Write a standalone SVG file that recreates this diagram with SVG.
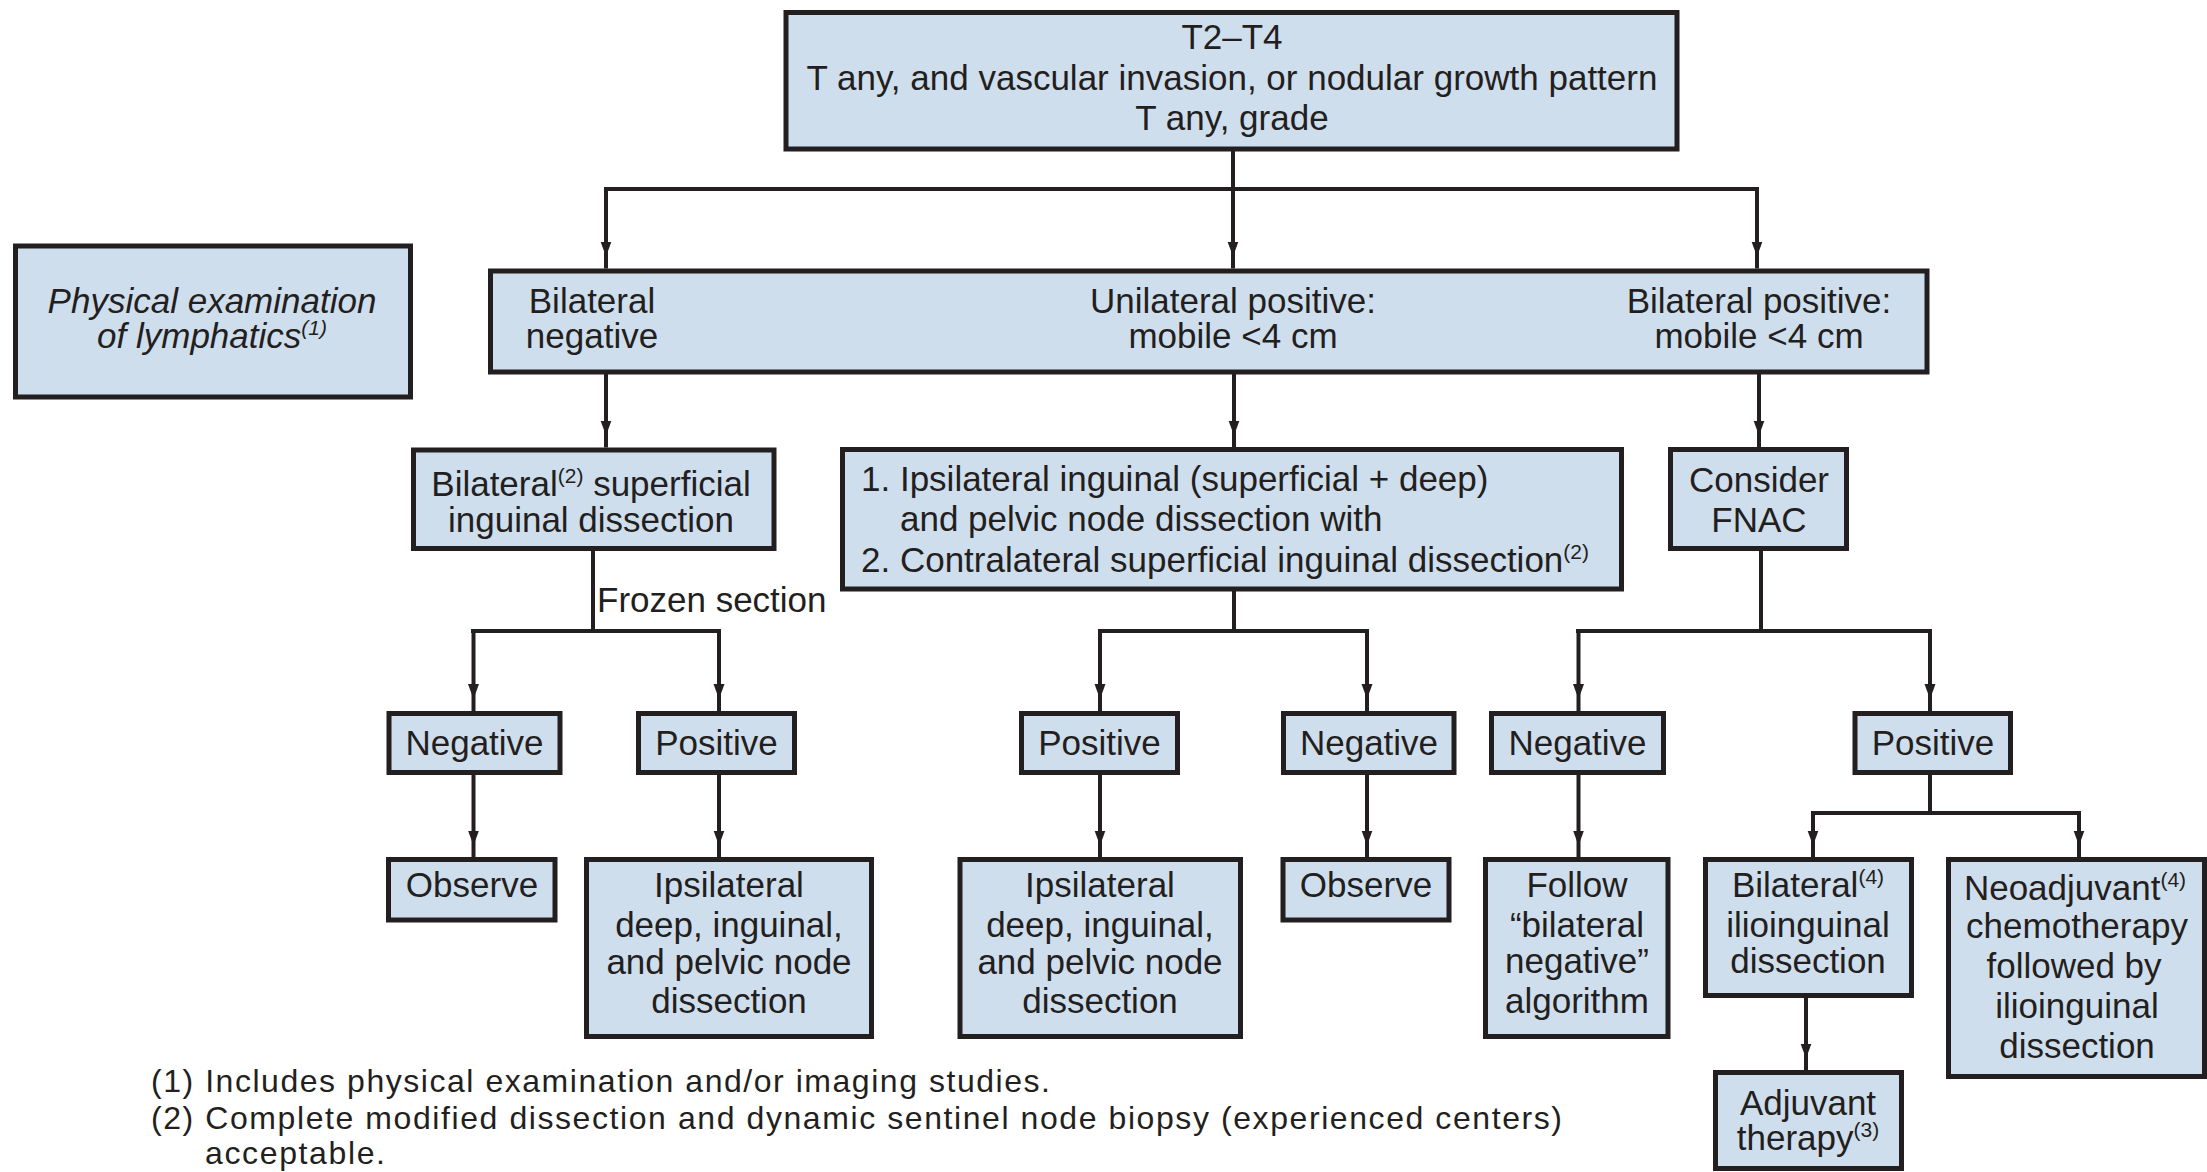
<svg xmlns="http://www.w3.org/2000/svg" width="2207" height="1172" viewBox="0 0 2207 1172">
<style>
.box{fill:#cfdeed;stroke:#231f20;stroke-width:5}
.t{font-family:"Liberation Sans",Arial,sans-serif;font-size:35px;fill:#231f20}
.c{text-anchor:middle}
.i{font-style:italic}
.sup{font-size:21px}
.fn{font-size:32px}
.ln{fill:none;stroke:#231f20;stroke-width:4}
</style>
<defs>
<marker id="ah" markerUnits="userSpaceOnUse" viewBox="0 -7 30 14" markerWidth="30" markerHeight="14" refX="27" refY="0" orient="auto">
<path d="M0,-5.5 L15,0 L0,5.5 z" fill="#231f20"/>
</marker>
</defs>
<rect width="2207" height="1172" fill="#ffffff"/>

<g id="connectors" class="ln">
<path d="M1233,149 V189"/>
<path d="M604,189 H1759"/>
<path d="M606,189 V268.5" marker-end="url(#ah)"/>
<path d="M1233,189 V268.5" marker-end="url(#ah)"/>
<path d="M1757,189 V268.5" marker-end="url(#ah)"/>
<path d="M606,372 V447.5" marker-end="url(#ah)"/>
<path d="M1234,372 V447.5" marker-end="url(#ah)"/>
<path d="M1759,372 V447.5" marker-end="url(#ah)"/>
<path d="M593,551 V631"/>
<path d="M471,631 H721"/>
<path d="M473.5,631 V711" marker-end="url(#ah)"/>
<path d="M719,631 V711" marker-end="url(#ah)"/>
<path d="M1234,591 V631"/>
<path d="M1098,631 H1369"/>
<path d="M1100,631 V711" marker-end="url(#ah)"/>
<path d="M1367,631 V711" marker-end="url(#ah)"/>
<path d="M1761,551 V631"/>
<path d="M1576,631 H1932"/>
<path d="M1578.5,631 V711" marker-end="url(#ah)"/>
<path d="M1930,631 V711" marker-end="url(#ah)"/>
<path d="M473.5,775 V857.5" marker-end="url(#ah)"/>
<path d="M719,775 V857.5" marker-end="url(#ah)"/>
<path d="M1100,775 V857.5" marker-end="url(#ah)"/>
<path d="M1367,775 V857.5" marker-end="url(#ah)"/>
<path d="M1578.5,775 V857.5" marker-end="url(#ah)"/>
<path d="M1930,775 V813"/>
<path d="M1811,813 H2081"/>
<path d="M1813,813 V857.5" marker-end="url(#ah)"/>
<path d="M2079,813 V857.5" marker-end="url(#ah)"/>
<path d="M1806,998 V1070.5" marker-end="url(#ah)"/>
</g>

<g id="n-top">
<rect class="box" x="786" y="12.5" width="891" height="136.5"/>
<text class="t c" x="1232" y="49">T2–T4</text>
<text class="t c" x="1232" y="90">T any, and vascular invasion, or nodular growth pattern</text>
<text class="t c" x="1232" y="130">T any, grade</text>
</g>

<g id="n-physical">
<rect class="box" x="15.5" y="246" width="395" height="151"/>
<text class="t c i" x="212" y="313">Physical examination</text>
<text class="t c i" x="212" y="348">of lymphatics<tspan class="sup" dy="-13">(1)</tspan></text>
</g>

<g id="n-row2">
<rect class="box" x="490.5" y="271" width="1436.5" height="101"/>
<text class="t c" x="592" y="313">Bilateral</text>
<text class="t c" x="592" y="348">negative</text>
<text class="t c" x="1233" y="313">Unilateral positive:</text>
<text class="t c" x="1233" y="348">mobile &lt;4 cm</text>
<text class="t c" x="1759" y="313">Bilateral positive:</text>
<text class="t c" x="1759" y="348">mobile &lt;4 cm</text>
</g>

<g id="n-bilat-superficial">
<rect class="box" x="413.5" y="450" width="360.5" height="98.5"/>
<text class="t c" x="591" y="496">Bilateral<tspan class="sup" dy="-13">(2)</tspan><tspan dy="13"> superficial</tspan></text>
<text class="t c" x="591" y="532">inguinal dissection</text>
</g>

<g id="n-ipsi-inguinal">
<rect class="box" x="842.5" y="449.5" width="779" height="139.5"/>
<text class="t" x="861" y="491">1. Ipsilateral inguinal (superficial + deep)</text>
<text class="t" x="900" y="531">and pelvic node dissection with</text>
<text class="t" x="861" y="572">2. Contralateral superficial inguinal dissection<tspan class="sup" dy="-13">(2)</tspan></text>
</g>

<g id="n-fnac">
<rect class="box" x="1670.5" y="449.5" width="176" height="99"/>
<text class="t c" x="1759" y="492">Consider</text>
<text class="t c" x="1759" y="532">FNAC</text>
</g>

<text class="t" x="597" y="612">Frozen section</text>

<g id="n-neg-l">
<rect class="box" x="389" y="713.5" width="171" height="59"/>
<text class="t c" x="474.5" y="755">Negative</text>
</g>
<g id="n-pos-l">
<rect class="box" x="638.5" y="713.5" width="156" height="59"/>
<text class="t c" x="716.5" y="755">Positive</text>
</g>
<g id="n-pos-m">
<rect class="box" x="1021.5" y="713.5" width="156" height="59"/>
<text class="t c" x="1099.5" y="755">Positive</text>
</g>
<g id="n-neg-m">
<rect class="box" x="1283.5" y="713.5" width="170.5" height="59"/>
<text class="t c" x="1369" y="755">Negative</text>
</g>
<g id="n-neg-r">
<rect class="box" x="1491.5" y="713.5" width="172" height="59"/>
<text class="t c" x="1577.5" y="755">Negative</text>
</g>
<g id="n-pos-r">
<rect class="box" x="1855" y="713.5" width="155.5" height="59"/>
<text class="t c" x="1933" y="755">Positive</text>
</g>

<g id="n-observe-l">
<rect class="box" x="388.5" y="859.5" width="166.5" height="60.5"/>
<text class="t c" x="472" y="897">Observe</text>
</g>
<g id="n-ipsi-deep-l">
<rect class="box" x="586.5" y="859.5" width="285" height="177"/>
<text class="t c" x="729" y="897">Ipsilateral</text>
<text class="t c" x="729" y="937">deep, inguinal,</text>
<text class="t c" x="729" y="974">and pelvic node</text>
<text class="t c" x="729" y="1013">dissection</text>
</g>
<g id="n-ipsi-deep-m">
<rect class="box" x="960" y="859.5" width="280.5" height="177"/>
<text class="t c" x="1100" y="897">Ipsilateral</text>
<text class="t c" x="1100" y="937">deep, inguinal,</text>
<text class="t c" x="1100" y="974">and pelvic node</text>
<text class="t c" x="1100" y="1013">dissection</text>
</g>
<g id="n-observe-m">
<rect class="box" x="1283" y="859.5" width="166" height="60.5"/>
<text class="t c" x="1366" y="897">Observe</text>
</g>
<g id="n-follow">
<rect class="box" x="1485.5" y="859.5" width="182.5" height="177"/>
<text class="t c" x="1577" y="897">Follow</text>
<text class="t c" x="1577" y="937">“bilateral</text>
<text class="t c" x="1577" y="973">negative”</text>
<text class="t c" x="1577" y="1013">algorithm</text>
</g>
<g id="n-bilat-ilio">
<rect class="box" x="1705.5" y="859.5" width="206" height="136"/>
<text class="t c" x="1808" y="897">Bilateral<tspan class="sup" dy="-13">(4)</tspan></text>
<text class="t c" x="1808" y="937">ilioinguinal</text>
<text class="t c" x="1808" y="973">dissection</text>
</g>
<g id="n-neoadjuvant">
<rect class="box" x="1948.5" y="859.5" width="256" height="217"/>
<text class="t c" x="2075" y="900">Neoadjuvant<tspan class="sup" dy="-13">(4)</tspan></text>
<text class="t c" x="2077" y="938">chemotherapy</text>
<text class="t c" x="2074" y="978">followed by</text>
<text class="t c" x="2077" y="1018">ilioinguinal</text>
<text class="t c" x="2077" y="1058">dissection</text>
</g>
<g id="n-adjuvant">
<rect class="box" x="1715.5" y="1072.5" width="186" height="96"/>
<text class="t c" x="1808" y="1115">Adjuvant</text>
<text class="t c" x="1808" y="1150">therapy<tspan class="sup" dy="-13">(3)</tspan></text>
</g>

<g id="footnotes">
<text class="t fn" x="151" y="1092" textLength="899" lengthAdjust="spacing">(1) Includes physical examination and/or imaging studies.</text>
<text class="t fn" x="151" y="1129" textLength="1411" lengthAdjust="spacing">(2) Complete modified dissection and dynamic sentinel node biopsy (experienced centers)</text>
<text class="t fn" x="205" y="1164" textLength="180" lengthAdjust="spacing">acceptable.</text>
</g>
</svg>
